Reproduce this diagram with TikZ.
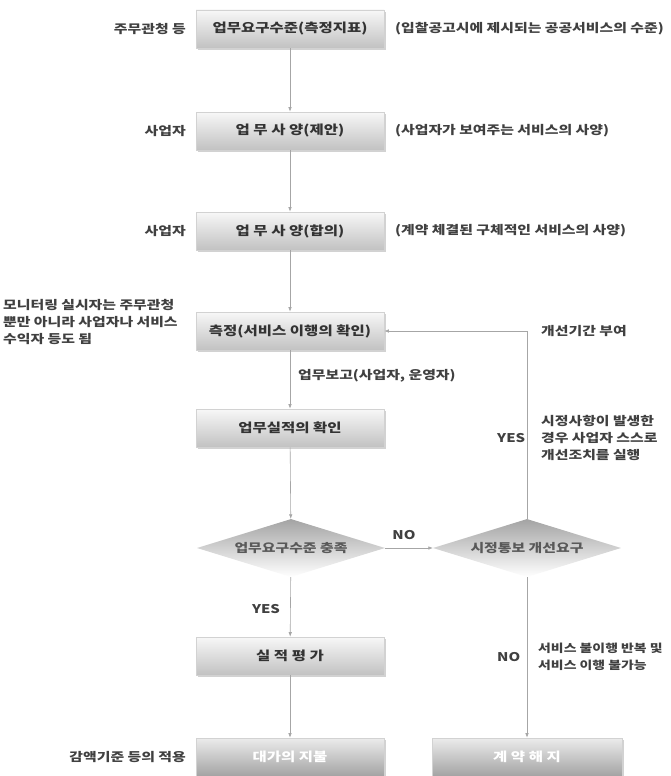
\documentclass[tikz,border=0pt]{standalone}
\usepackage{fontspec}
\newfontfamily\kr[FakeStretch=1.24]{Noto Sans CJK KR}
\usetikzlibrary{shapes.geometric,arrows.meta,shadows}
\begin{document}
\begin{tikzpicture}[x=1pt,y=-1pt,
  every node/.style={inner sep=0pt},
  sidetext/.style={font=\kr\bfseries\fontsize{12}{17}\selectfont, text=black!75, align=left},
  procbox/.style={rectangle, minimum width=188pt, minimum height=38pt,
    top color=gray!6, bottom color=gray!48, draw=gray!35, line width=0.6pt,
    drop shadow={opacity=0.35, shadow xshift=1.5pt, shadow yshift=-2pt},
    font=\kr\bfseries\fontsize{12.5}{14}\selectfont, text=black!80},
  endbox/.style={procbox, top color=gray!15, bottom color=gray!72, text=white},
  decision/.style={diamond, aspect=3.3, minimum width=188pt, minimum height=58pt,
    top color=gray!72, bottom color=white, draw=none,
    font=\kr\bfseries\fontsize{12}{14}\selectfont, text=black!65},
  conn/.style={draw=gray!70, line width=0.6pt, -{Latex[length=4.5pt,width=3.5pt]}}
]
\useasboundingbox[fill=white] (0,0) rectangle (670,776);

% main boxes
\node[procbox] (b1) at (290,29)  {업무요구수준(측정지표)};
\node[procbox] (b2) at (290,131) {업 무 사 양(제안)};
\node[procbox] (b3) at (290,231) {업 무 사 양(합의)};
\node[procbox] (b4) at (290,331) {측정(서비스 이행의 확인)};
\node[procbox] (b5) at (290,428) {업무실적의 확인};
\node[decision] (d1) at (291,548) {업무요구수준 충족};
\node[decision] (d2) at (527,548) {시정통보 개선요구};
\node[procbox] (b6) at (290,656) {실 적 평 가};
\node[endbox] (b7) at (290,757) {대가의 지불};
\node[endbox, minimum width=190pt] (b8) at (527,757) {계 약 해 지};

% side texts
\node[sidetext, anchor=east] (l1) at (186,29) {주무관청 등};
\node[sidetext, anchor=west] (r1) at (395,29) {(입찰공고시에 제시되는 공공서비스의 수준)};
\node[sidetext, anchor=east] (l2) at (186,131) {사업자};
\node[sidetext, anchor=west] (r2) at (395,131) {(사업자가 보여주는 서비스의 사양)};
\node[sidetext, anchor=east] (l3) at (186,231) {사업자};
\node[sidetext, anchor=west] (r3) at (395,231) {(계약 체결된 구체적인 서비스의 사양)};
\node[sidetext, anchor=west] (l4) at (3,322) {모니터링 실시자는 주무관청\\뿐만 아니라 사업자나 서비스\\수익자 등도 됨};
\node[sidetext, anchor=west] (r4) at (541,331) {개선기간 부여};
\node[sidetext, anchor=west] (rep) at (298,376) {업무보고(사업자, 운영자)};
\node[sidetext, anchor=west] (yes2) at (497,438) {YES};
\node[sidetext, anchor=west] (r5) at (541,438) {시정사항이 발생한\\경우 사업자 스스로\\개선조치를 실행};
\node[sidetext] (no1) at (404,535) {NO};
\node[sidetext] (yes1) at (266,609) {YES};
\node[sidetext, anchor=west] (no2) at (497,657) {NO};
\node[sidetext, anchor=west, font=\kr\bfseries\fontsize{11.2}{17}\selectfont] (r6) at (538,657) {서비스 불이행 반복 및\\서비스 이행 불가능};
\node[sidetext, anchor=east] (l7) at (186,757) {감액기준 등의 적용};

% connectors
\draw[conn] (b1) -- (b2);
\draw[conn] (b2) -- (b3);
\draw[conn] (b3) -- (b4);
\draw[conn] (b4) -- (b5);
\draw[conn] (b5) -- (d1);
\draw[conn] (d1) -- (d2);
\draw[conn] (d1) -- (b6);
\draw[conn] (b6) -- (b7);
\draw[conn] (d2.south) -- (b8);
\draw[conn] (d2.north) |- (b4.east);
\end{tikzpicture}
\end{document}
